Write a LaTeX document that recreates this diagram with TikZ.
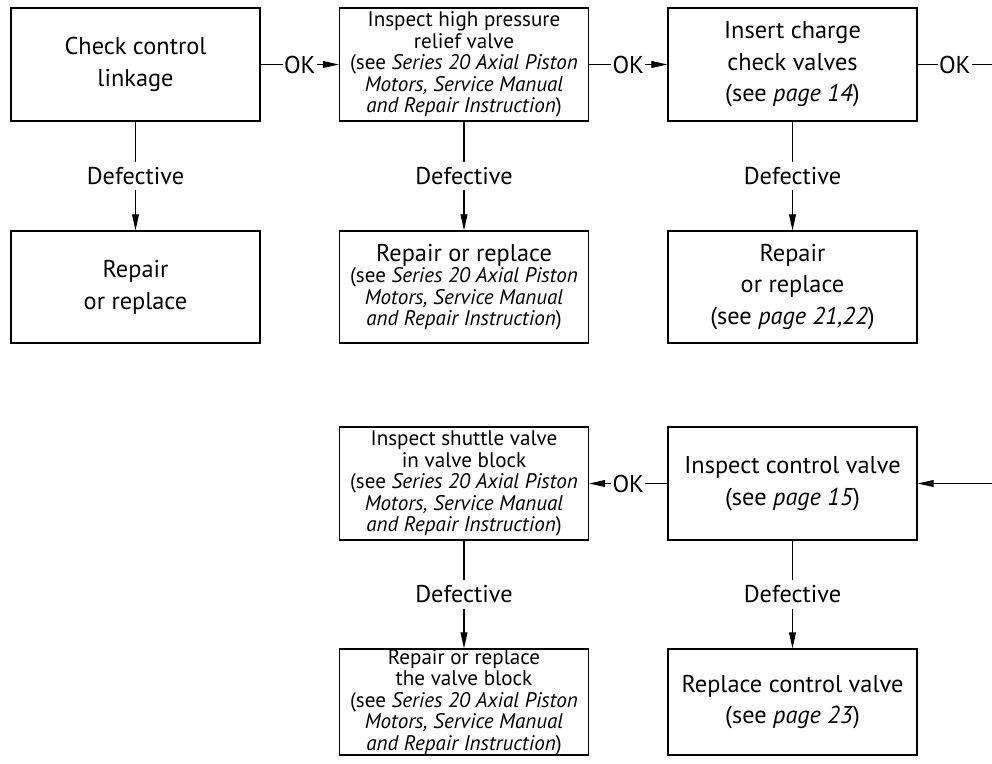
\documentclass[tikz,border=0pt]{standalone}
\usepackage{fontspec}
\setmainfont{PT Sans}
\usetikzlibrary{arrows.meta}
\newcommand{\lrgtxt}{\fontsize{17.3}{22.5}\selectfont}
\newcommand{\smltxt}{\fontsize{15}{15.3}\selectfont}

\begin{document}
\begin{tikzpicture}[x=0.025cm,y=-0.025cm,
  box/.style={draw,line width=0.8pt,minimum width=6.225cm,align=center,inner sep=0pt},
  arr/.style={line width=0.8pt,-{Triangle[length=0.4cm,width=0.17cm]}},
  lin/.style={line width=0.8pt},
  lbl/.style={fill=white,inner xsep=1pt,inner ysep=4pt,font=\lrgtxt}]
\useasboundingbox (0,0) rectangle (992,763);

\node [box,minimum height=2.825cm,font=\lrgtxt] (chk) at (135.5,64.5) {Check control\\linkage};
\node [box,minimum height=2.825cm,font=\smltxt] (hpv) at (464,64.5) {Inspect high pressure\\relief valve\\(see \textit{Series 20 Axial Piston}\\\textit{Motors, Service Manual}\\\textit{and Repair Instruction})};
\node [box,minimum height=2.825cm,font=\lrgtxt] (ccv) at (792.5,64.5) {Insert charge\\check valves\\(see \textit{page 14})};

\node [box,minimum height=2.8cm,font=\lrgtxt] (rp1) at (135.5,287) {Repair\\or replace};
\node [box,minimum height=2.8cm,font=\smltxt] (rp2) at (464,287) {{\lrgtxt Repair or replace}\\(see \textit{Series 20 Axial Piston}\\\textit{Motors, Service Manual}\\\textit{and Repair Instruction})};
\node [box,minimum height=2.8cm,font=\lrgtxt] (rp3) at (792.5,287) {Repair\\or replace\\(see \textit{page 21,22})};

\node [box,minimum height=2.825cm,font=\smltxt] (shv) at (464,483.5) {Inspect shuttle valve\\in valve block\\(see \textit{Series 20 Axial Piston}\\\textit{Motors, Service Manual}\\\textit{and Repair Instruction})};
\node [box,minimum height=2.825cm,font=\lrgtxt] (ctl) at (792.5,483.5) {Inspect control valve\\(see \textit{page 15})};

\node [box,minimum height=2.65cm,font=\smltxt] (rp4) at (464,702) {Repair or replace\\the valve block\\(see \textit{Series 20 Axial Piston}\\\textit{Motors, Service Manual}\\\textit{and Repair Instruction})};
\node [box,minimum height=2.65cm,font=\lrgtxt] (rp5) at (792.5,702) {Replace control valve\\(see \textit{page 23})};

\coordinate (outR) at (992,64.5);
\coordinate (inR) at (992,483.5);

% OK chain
\draw [arr] (chk) -- (hpv) node [midway,lbl] {OK};
\draw [arr] (hpv) -- (ccv) node [midway,lbl] {OK};
\draw [lin] (ccv) -- (outR) node [midway,lbl] {OK};
\draw [arr] (inR) -- (ctl);
\draw [arr] (ctl) -- (shv) node [midway,lbl] {OK};

% defective branches
\draw [arr] (chk) -- (rp1) node [midway,lbl] {Defective};
\draw [arr] (hpv) -- (rp2) node [midway,lbl] {Defective};
\draw [arr] (ccv) -- (rp3) node [midway,lbl] {Defective};
\draw [arr] (shv) -- (rp4) node [midway,lbl] {Defective};
\draw [arr] (ctl) -- (rp5) node [midway,lbl] {Defective};

\end{tikzpicture}
\end{document}
